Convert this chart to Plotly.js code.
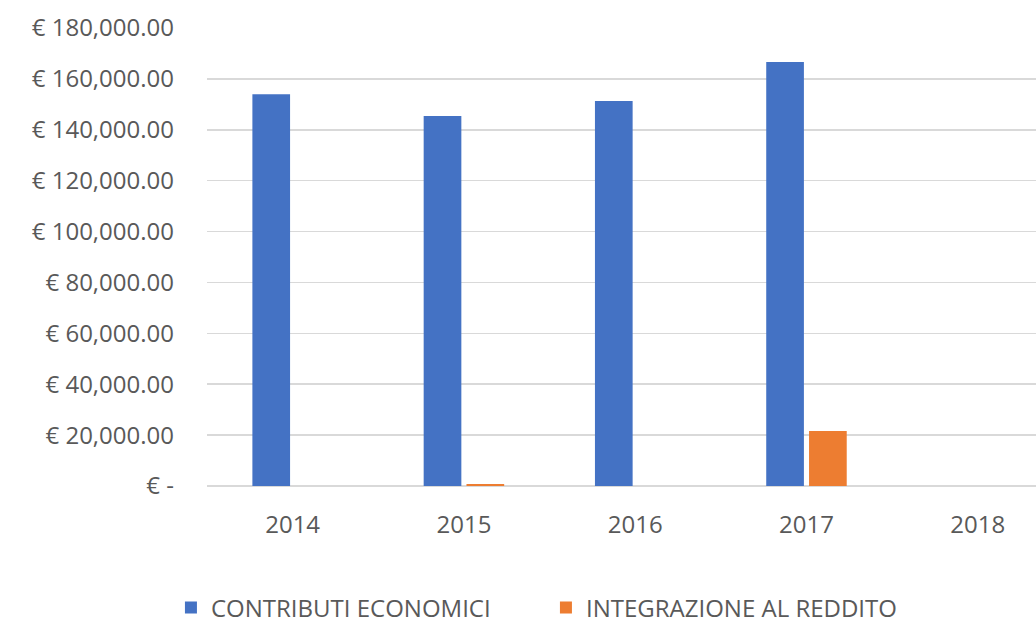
<!DOCTYPE html>
<html>
<head>
<meta charset="utf-8">
<script src="https://cdn.plot.ly/plotly-3.0.1.min.js"></script>
<style>
  body { margin: 0; background: #fff; }
  #grafico { width: 1036px; height: 624px; }
</style>
</head>
<body>
<div id="grafico"></div>
<script>
// dati
const anni = ['2014', '2015', '2016', '2017', '2018'];
const contributiEconomici = [154000, 145400, 151300, 166600, 0];
const integrazioneReddito = [0, 800, 0, 21600, 0];

const tickValori = [0, 20000, 40000, 60000, 80000, 100000, 120000, 140000, 160000, 180000];
const tickTesti = ['€ -', '€ 20,000.00', '€ 40,000.00', '€ 60,000.00', '€ 80,000.00',
    '€ 100,000.00', '€ 120,000.00', '€ 140,000.00', '€ 160,000.00', '€ 180,000.00'];

const font = "'Open Sans', 'Noto Sans', sans-serif";
const grigio = '#595959';

const tracce = [
    {
        x: anni,
        y: contributiEconomici,
        type: 'bar',
        name: 'CONTRIBUTI ECONOMICI',
        marker: { color: '#4472c4' }
    },
    {
        x: anni,
        y: integrazioneReddito,
        type: 'bar',
        name: 'INTEGRAZIONE AL REDDITO',
        marker: { color: '#ed7d31' }
    }
];

const layout = {
    width: 1036,
    height: 624,
    margin: { l: 207, r: 0, t: 28, b: 138 },
    paper_bgcolor: '#ffffff',
    plot_bgcolor: '#ffffff',
    font: { family: font, size: 24, color: grigio },
    barmode: 'group',
    bargap: 0.5,
    bargroupgap: 0.12,
    showlegend: true,
    legend: {
        orientation: 'h',
        xref: 'container',
        yref: 'container',
        x: 0.165,
        xanchor: 'left',
        y: 0.026,
        yanchor: 'middle',
        entrywidth: 330,
        font: { family: font, size: 24, color: grigio }
    },
    xaxis: {
        type: 'category',
        // il grafico originale e' tagliato sul lato destro
        range: [-0.5, 4.34],
        showgrid: false,
        showline: false,
        ticks: '',
        ticklabelstandoff: 22,
        tickfont: { family: font, size: 24, color: grigio }
    },
    yaxis: {
        range: [0, 180000],
        tickvals: tickValori,
        ticktext: tickTesti,
        showgrid: true,
        gridcolor: '#d9d9d9',
        gridwidth: 1.5,
        zeroline: true,
        zerolinecolor: '#d9d9d9',
        zerolinewidth: 1.5,
        ticks: '',
        ticklabelstandoff: 32,
        tickfont: { family: font, size: 24, color: grigio }
    }
};

Plotly.newPlot('grafico', tracce, layout, { displayModeBar: false, staticPlot: true });
</script>
</body>
</html>
